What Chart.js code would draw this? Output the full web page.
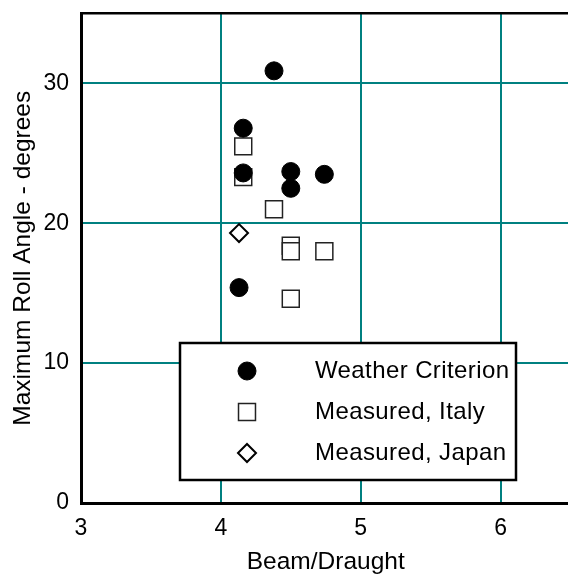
<!DOCTYPE html>
<html lang="en">
<head>
  <meta charset="UTF-8" />
  <title>Maximum Roll Angle vs Beam/Draught</title>
  <style>
    html, body {
      margin: 0;
      padding: 0;
      background: #fff;
      overflow: hidden;
    }
    #wrap {
      position: relative;
      width: 584px;
      height: 580px;
    }
  </style>
  <script src="https://cdn.jsdelivr.net/npm/chart.js"></script>
</head>
<body>
  <div id="wrap">
    <canvas id="rollChart" width="584" height="580"></canvas>
  </div>

  <script>
    // Beam/Draught ratio and maximum roll angle (degrees) per ship
    const weatherX = [4.38, 4.16, 4.16, 4.50, 4.50, 4.74, 4.13];
    const weatherY = [30.9, 26.8, 23.6, 23.7, 22.5, 23.5, 15.4];

    const italyX = [4.16, 4.16, 4.38, 4.50, 4.50, 4.74, 4.50];
    const italyY = [25.5, 23.3, 21.0, 18.4, 18.0, 18.0, 14.6];

    const japanX = [4.13];
    const japanY = [19.3];

    const seriesNames = ['Weather Criterion', 'Measured, Italy', 'Measured, Japan'];
    const xTicks = [3, 4, 5, 6];
    const yTicks = [0, 10, 20, 30];

    const FONT = "'Liberation Sans', Arial, Helvetica, sans-serif";
    const GRID = '#008080';

    function toPoints(xs, ys) {
      return xs.map((x, i) => ({ x: x, y: ys[i] }));
    }

    // legend box drawn inside the plot, lower right
    const boxLegend = {
      id: 'boxLegend',
      afterDraw(chart) {
        const ctx = chart.ctx;
        const left = 180, top = 343, right = 516, bottom = 480;
        ctx.save();
        ctx.fillStyle = '#fff';
        ctx.fillRect(left, top, right - left, bottom - top);
        ctx.lineWidth = 2.5;
        ctx.strokeStyle = '#000';
        ctx.strokeRect(left, top, right - left, bottom - top);

        const rows = [371, 412, 453];
        chart.data.datasets.forEach((ds, i) => {
          const y = rows[i];
          ctx.fillStyle = ds.pointBackgroundColor;
          ctx.strokeStyle = ds.pointBorderColor;
          ctx.lineWidth = ds.pointBorderWidth;
          const opts = { pointStyle: ds.pointStyle, radius: ds.pointRadius, rotation: 0, borderWidth: ds.pointBorderWidth };
          if (Chart.helpers && Chart.helpers.drawPoint) {
            Chart.helpers.drawPoint(ctx, opts, 247, y);
          }
          ctx.fillStyle = '#000';
          ctx.font = '24px ' + FONT;
          ctx.letterSpacing = '0.4px';
          ctx.textBaseline = 'middle';
          ctx.textAlign = 'left';
          ctx.fillText(ds.label, 315, y);
        });
        ctx.restore();
      }
    };

    const ctx = document.getElementById('rollChart').getContext('2d');

    new Chart(ctx, {
      type: 'scatter',
      data: {
        datasets: [{
          label: seriesNames[0],
          data: toPoints(weatherX, weatherY),
          pointStyle: 'circle',
          pointRadius: 9,
          pointBackgroundColor: '#000',
          pointBorderColor: '#000',
          pointBorderWidth: 1
        }, {
          label: seriesNames[1],
          data: toPoints(italyX, italyY),
          pointStyle: 'rect',
          pointRadius: 12,
          pointBackgroundColor: '#fff',
          pointBorderColor: '#222',
          pointBorderWidth: 1.5
        }, {
          label: seriesNames[2],
          data: toPoints(japanX, japanY),
          pointStyle: 'rectRot',
          pointRadius: 9,
          pointBackgroundColor: '#fff',
          pointBorderColor: '#000',
          pointBorderWidth: 2
        }]
      },
      options: {
        responsive: false,
        animation: false,
        events: [],
        layout: { padding: { top: 12, left: 0, right: 0, bottom: 0 } },
        plugins: {
          legend: { display: false },
          tooltip: { enabled: false }
        },
        scales: {
          x: {
            type: 'linear',
            min: 3,
            max: 6.5,
            afterBuildTicks(scale) {
              scale.ticks = xTicks.map(v => ({ value: v }));
            },
            afterFit(scale) {
              scale.height = 77;
              scale.paddingLeft = 0;
              scale.paddingRight = 0;
            },
            ticks: {
              color: '#000',
              padding: 12,
              font: { family: FONT, size: 23 },
              callback: v => String(v)
            },
            grid: {
              color: GRID,
              lineWidth: 2,
              drawTicks: false
            },
            border: { color: '#000', width: 3 },
            title: {
              display: true,
              text: 'Beam/Draught',
              color: '#000',
              font: { family: FONT, size: 24.5 },
              padding: { top: 0, bottom: 3 }
            }
          },
          y: {
            type: 'linear',
            min: 0,
            max: 35,
            afterBuildTicks(scale) {
              scale.ticks = yTicks.concat([35]).map(v => ({ value: v }));
            },
            afterFit(scale) {
              scale.width = 81;
              scale.paddingTop = 0;
              scale.paddingBottom = 0;
            },
            ticks: {
              color: '#000',
              padding: 12,
              font: { family: FONT, size: 23 },
              callback: v => (v === 35 ? '' : String(v))
            },
            grid: {
              color: c => (c.tick && c.tick.value === 35 ? '#000' : GRID),
              lineWidth: c => (c.tick && c.tick.value === 35 ? 2.5 : 2),
              drawTicks: false
            },
            border: { color: '#000', width: 3 },
            title: {
              display: true,
              text: 'Maximum Roll Angle - degrees',
              color: '#000',
              font: { family: FONT, size: 24.5 },
              padding: { top: 9, bottom: 0 }
            }
          }
        }
      },
      plugins: [boxLegend]
    });
  </script>
</body>
</html>
